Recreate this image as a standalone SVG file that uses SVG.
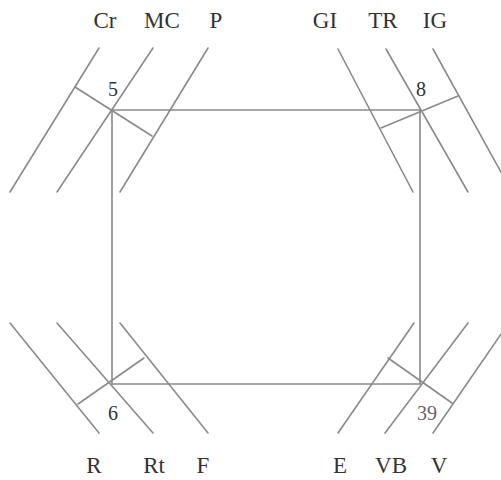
<svg xmlns="http://www.w3.org/2000/svg" width="501" height="480" viewBox="0 0 501 480">
<style>
.ln{stroke:#8a8a8a;stroke-width:1.6;fill:none;stroke-linecap:round}
.lb{font-family:"Liberation Serif","Times New Roman",serif;font-size:23px;fill:#333;text-anchor:middle}
.nm{font-family:"Liberation Serif","Times New Roman",serif;font-size:20px;fill:#333;text-anchor:middle}
.nm2{font-family:"Liberation Serif","Times New Roman",serif;font-size:20px;fill:#666;text-anchor:middle}
</style>
<rect width="501" height="480" fill="#fff"/>
<g id="connectors">
<line class="ln" x1="112" y1="110" x2="420" y2="110"/>
<line class="ln" x1="112" y1="110" x2="112" y2="384"/>
<line class="ln" x1="420" y1="110" x2="420" y2="384"/>
<line class="ln" x1="112" y1="384" x2="420" y2="384"/>
</g>
<g id="node5">
<line class="ln" x1="99" y1="48" x2="10" y2="192"/>
<line class="ln" x1="153" y1="48" x2="57" y2="192"/>
<line class="ln" x1="208" y1="48" x2="120" y2="192"/>
<line class="ln" x1="75" y1="87" x2="152" y2="136"/>
<text class="nm" x="113" y="96">5</text>
<text class="lb" x="105" y="28">Cr</text>
<text class="lb" x="162" y="28">MC</text>
<text class="lb" x="216" y="28">P</text>
</g>
<g id="node8">
<line class="ln" x1="338" y1="49" x2="413" y2="192"/>
<line class="ln" x1="386" y1="49" x2="468" y2="192"/>
<line class="ln" x1="433" y1="49" x2="512" y2="192"/>
<line class="ln" x1="381" y1="128" x2="458" y2="96"/>
<text class="nm" x="421" y="96">8</text>
<text class="lb" x="325" y="28">GI</text>
<text class="lb" x="383" y="28">TR</text>
<text class="lb" x="435" y="28">IG</text>
</g>
<g id="node6">
<line class="ln" x1="10" y1="323" x2="99" y2="433"/>
<line class="ln" x1="57" y1="323" x2="153" y2="433"/>
<line class="ln" x1="120" y1="323" x2="208" y2="433"/>
<line class="ln" x1="78" y1="404" x2="144" y2="358"/>
<text class="nm" x="113" y="420">6</text>
<text class="lb" x="94" y="473">R</text>
<text class="lb" x="154" y="473">Rt</text>
<text class="lb" x="203" y="473">F</text>
</g>
<g id="node39">
<line class="ln" x1="414" y1="323" x2="338" y2="433"/>
<line class="ln" x1="468" y1="323" x2="385" y2="433"/>
<line class="ln" x1="510" y1="321" x2="433" y2="433"/>
<line class="ln" x1="388" y1="358" x2="452" y2="403"/>
<text class="nm2" x="427" y="420">39</text>
<text class="lb" x="340" y="473">E</text>
<text class="lb" x="391" y="473">VB</text>
<text class="lb" x="439" y="473">V</text>
</g>
</svg>
